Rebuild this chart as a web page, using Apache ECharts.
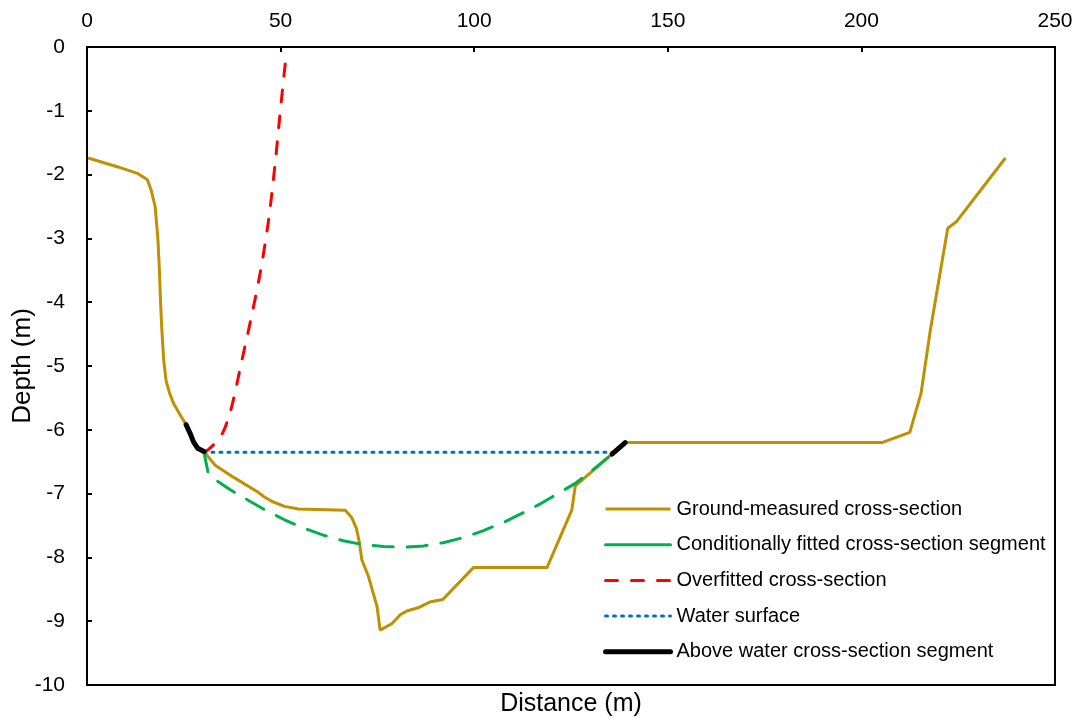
<!DOCTYPE html>
<html>
<head>
<meta charset="utf-8">
<script src="https://cdn.jsdelivr.net/npm/echarts@6/dist/echarts.min.js"></script>
<style>
  html, body { margin: 0; padding: 0; background: #fff; }
  #chart { width: 1078px; height: 718px; }
</style>
</head>
<body>
<div id="chart"></div>
<script>
// Cross-section profile: distance (m) vs depth (m)
const groundMeasured = [
  [0.3, -1.74], [8, -1.88], [13, -1.98], [15.6, -2.08], [16.6, -2.25], [17.6, -2.5],
  [18.3, -3.0], [18.7, -3.5], [19.0, -4.0], [19.3, -4.4], [19.8, -4.9], [20.4, -5.22],
  [21.3, -5.42], [22.3, -5.58], [24.0, -5.76], [25.6, -5.92], [26.8, -6.08], [27.5, -6.19],
  [28.6, -6.29], [30.2, -6.34], [33, -6.55], [38, -6.75], [44.0, -6.97], [45.7, -7.05],
  [47.7, -7.12], [51, -7.2], [54.6, -7.24], [66.7, -7.26], [68.4, -7.38], [69.6, -7.55],
  [70.3, -7.75], [71.0, -8.04], [72.7, -8.3], [74.9, -8.77], [75.7, -9.14], [78.7, -9.04],
  [80.9, -8.9], [82.6, -8.84], [85.5, -8.79], [88.5, -8.7], [91.9, -8.66], [99.8, -8.16],
  [118.8, -8.16], [125.2, -7.26], [126.1, -6.88], [135.6, -6.38], [139, -6.2],
  [205.3, -6.2], [212.5, -6.04], [215.4, -5.43], [217.8, -4.44], [222.3, -2.84],
  [224.5, -2.74], [237.2, -1.74]
];

const conditionallyFitted = [
  [30.2, -6.35], [31.3, -6.68], [34, -6.82], [37, -6.94], [41.5, -7.1], [46.4, -7.27],
  [51, -7.41], [55.9, -7.54], [61, -7.65], [66.2, -7.74], [71.4, -7.8], [76.6, -7.83],
  [81.7, -7.84], [86.9, -7.82], [92, -7.77], [97.2, -7.69], [102.4, -7.58], [107.6, -7.45],
  [112.3, -7.31], [117.1, -7.16], [121.6, -7.0], [126.1, -6.84], [130.8, -6.62], [135.6, -6.38]
];

const overfitted = [
  [30.2, -6.35], [31.3, -6.31], [32.6, -6.24], [34.0, -6.14], [35.2, -6.03], [36.6, -5.8],
  [37.8, -5.53], [40.0, -4.91], [42.1, -4.33], [44.7, -3.55], [46.9, -2.71],
  [48.6, -1.82], [49.7, -1.14], [50.6, -0.6], [51.4, -0.15]
];

const waterSurface = [[30.2, -6.35], [135.6, -6.35]];

// two dry bank pieces, separated by a gap
const aboveWater = [
  [25.6, -5.92], [26.8, -6.08], [27.5, -6.19], [28.6, -6.29], [30.2, -6.34],
  null,
  [135.6, -6.38], [139, -6.2]
];

const seriesNames = [
  'Ground-measured cross-section',
  'Conditionally fitted cross-section segment',
  'Overfitted cross-section',
  'Water surface',
  'Above water cross-section segment'
];

const xTicks = { min: 0, max: 250, step: 50 };
const yTicks = { min: -10, max: 0, step: 1 };

const FONT = '"Liberation Sans", Arial, sans-serif';

const chart = echarts.init(document.getElementById('chart'), null, { renderer: 'canvas' });

const axisLine = { show: true, onZero: false, lineStyle: { color: '#000', width: 2 } };

chart.setOption({
  backgroundColor: '#fff',
  animation: false,
  textStyle: { fontFamily: FONT },
  grid: {
    left: 87, right: 23, top: 47, bottom: 33,
    containLabel: false, outerBoundsMode: 'none'
  },
  legend: {
    orient: 'vertical',
    left: 598,
    top: 494,
    itemWidth: 65,
    itemHeight: 20,
    itemGap: 15.7,
    padding: 5,
    itemStyle: { opacity: 0 },
    textStyle: { fontFamily: FONT, fontSize: 20, color: '#000', padding: [0, 0, 0, 1] },
    data: [
      { name: seriesNames[0], lineStyle: { width: 3 } },
      { name: seriesNames[1], lineStyle: { type: 'solid', width: 3 } },
      { name: seriesNames[2], lineStyle: { width: 3 } },
      { name: seriesNames[3], lineStyle: { width: 3 } },
      { name: seriesNames[4], lineStyle: { width: 5, cap: 'round' } }
    ]
  },
  xAxis: [
    {
      type: 'value', position: 'top',
      min: xTicks.min, max: xTicks.max, interval: xTicks.step,
      axisLine: axisLine,
      axisTick: { show: true, inside: true, length: 5, lineStyle: { color: '#000', width: 2 } },
      axisLabel: { fontSize: 21, color: '#000', margin: 15, fontFamily: FONT },
      splitLine: { show: false }
    },
    {
      type: 'value', position: 'bottom',
      min: xTicks.min, max: xTicks.max,
      axisLine: axisLine,
      axisTick: { show: false }, axisLabel: { show: false }, splitLine: { show: false },
      name: 'Distance (m)', nameLocation: 'middle', nameGap: 7, nameMoveOverlap: false,
      nameTextStyle: { fontSize: 25, color: '#000', fontFamily: FONT }
    }
  ],
  yAxis: [
    {
      type: 'value', position: 'left',
      min: yTicks.min, max: yTicks.max, interval: yTicks.step,
      axisLine: axisLine,
      axisTick: { show: true, inside: true, length: 5, lineStyle: { color: '#000', width: 2 } },
      axisLabel: { fontSize: 21, color: '#000', margin: 22, fontFamily: FONT },
      splitLine: { show: false },
      name: 'Depth (m)', nameLocation: 'middle', nameGap: 51, nameRotate: 90, nameMoveOverlap: false,
      nameTextStyle: { fontSize: 26, color: '#000', fontFamily: FONT }
    },
    {
      type: 'value', position: 'right',
      min: yTicks.min, max: yTicks.max,
      axisLine: axisLine,
      axisTick: { show: false }, axisLabel: { show: false }, splitLine: { show: false }
    }
  ],
  series: [
    {
      name: seriesNames[0], type: 'line', data: groundMeasured,
      symbol: 'none', z: 2,
      lineStyle: { color: '#BF9000', width: 3 }, itemStyle: { color: '#BF9000' }
    },
    {
      name: seriesNames[1], type: 'line', data: conditionallyFitted,
      symbol: 'none', z: 3,
      lineStyle: { color: '#00B050', width: 3, type: [20, 14], cap: 'round' }, itemStyle: { color: '#00B050' }
    },
    {
      name: seriesNames[2], type: 'line', data: overfitted,
      symbol: 'none', smooth: 0.3, z: 3,
      lineStyle: { color: '#FF0000', width: 3, type: [12, 14], cap: 'round' }, itemStyle: { color: '#FF0000' }
    },
    {
      name: seriesNames[3], type: 'line', data: waterSurface,
      symbol: 'none', z: 3,
      lineStyle: { color: '#0070C0', width: 3, type: [2, 6], cap: 'round' }, itemStyle: { color: '#0070C0' }
    },
    {
      name: seriesNames[4], type: 'line', data: aboveWater,
      symbol: 'none', connectNulls: false, z: 4,
      lineStyle: { color: '#000', width: 5, cap: 'round', join: 'round' }, itemStyle: { color: '#000' }
    }
  ]
});
</script>
</body>
</html>
